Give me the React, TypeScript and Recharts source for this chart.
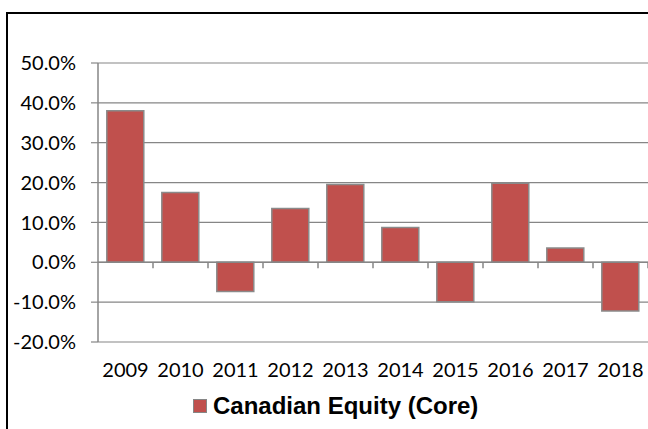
import {
  Bar,
  BarChart,
  CartesianGrid,
  Legend,
  ReferenceLine,
  XAxis,
  YAxis,
} from "recharts";

const years = ["2009", "2010", "2011", "2012", "2013", "2014", "2015", "2016", "2017", "2018"];
const returns = [38.0, 17.5, -7.3, 13.5, 19.5, 8.7, -9.9, 19.8, 3.6, -12.2];
const yTicks = [-20, -10, 0, 10, 20, 30, 40, 50];
const seriesName = "Canadian Equity (Core)";

const data = years.map((year, i) => ({ year, value: returns[i] }));

const GRAY = "#868686";
const RED = "#C0504D";

// Excel puts the category axis on the zero line with ticks between categories
function ZeroAxis(props: any) {
  const { x1, y1, x2, y2 } = props;
  const step = (x2 - x1) / years.length;
  return (
    <g>
      <line x1={x1} y1={y1} x2={x2} y2={y2} stroke={GRAY} strokeWidth={1.5} />
      {years.map((_, i) => (
        <line
          key={i}
          x1={x1 + step * (i + 1)}
          x2={x1 + step * (i + 1)}
          y1={y1}
          y2={y1 + 6}
          stroke={GRAY}
          strokeWidth={1.5}
        />
      ))}
    </g>
  );
}

function LegendContent() {
  return (
    <div
      style={{
        height: 42,
        display: "flex",
        alignItems: "center",
        paddingBottom: 4,
        boxSizing: "border-box",
        marginLeft: 193,
      }}
    >
      <span
        style={{
          width: 12,
          height: 12,
          background: RED,
          border: `1px solid ${GRAY}`,
          marginRight: 6,
        }}
      />
      <span
        style={{
          fontFamily: "'Liberation Sans', Arial, sans-serif",
          fontWeight: "bold",
          fontSize: 24,
          color: "#000",
          whiteSpace: "nowrap",
        }}
      >
        {seriesName}
      </span>
    </div>
  );
}

const tickStyle = { fontFamily: "Lato", fontSize: 20, fill: "#000" };

const pageCss =
  "html, body { overflow: hidden; background: #fff; } ::-webkit-scrollbar { width: 0; height: 0; display: none; }";

export default function App() {
  return (
    <div
      style={{
        position: "fixed",
        left: 0,
        top: 0,
        width: 648,
        height: 429,
        overflow: "hidden",
        background: "#fff",
      }}
    >
      <style>{pageCss}</style>
      {/* the chart frame runs past the right and bottom edges of the crop */}
      <div
        style={{
          position: "absolute",
          left: 6,
          top: 12,
          width: 642,
          height: 417,
          borderLeft: "2px solid #000",
          borderTop: "2px solid #000",
          boxSizing: "border-box",
        }}
      />
      <div style={{ position: "absolute", left: 0, top: 0 }}>
        <BarChart
          width={648}
          height={429}
          data={data}
          margin={{ top: 63, right: 0, bottom: 0, left: 0 }}
          barCategoryGap="16%"
        >
          <CartesianGrid vertical={false} stroke={GRAY} strokeWidth={1.2} />
          <XAxis
            dataKey="year"
            axisLine={false}
            tickLine={false}
            tickSize={0}
            tickMargin={21}
            height={45}
            interval={0}
            tick={tickStyle}
          />
          <YAxis
            width={98}
            domain={[-20, 50]}
            ticks={yTicks}
            interval={0}
            tickSize={7}
            tickMargin={15}
            stroke={GRAY}
            axisLine={{ stroke: GRAY, strokeWidth: 1.5 }}
            tickLine={{ stroke: GRAY, strokeWidth: 1.2 }}
            tick={tickStyle}
            tickFormatter={(v: number) => `${v.toFixed(1)}%`}
          />
          <Legend verticalAlign="bottom" content={<LegendContent />} />
          <Bar
            dataKey="value"
            name={seriesName}
            fill={RED}
            stroke="#8a8a8a"
            strokeWidth={1.5}
            isAnimationActive={false}
          />
          <ReferenceLine y={0} shape={<ZeroAxis />} />
        </BarChart>
      </div>
    </div>
  );
}
